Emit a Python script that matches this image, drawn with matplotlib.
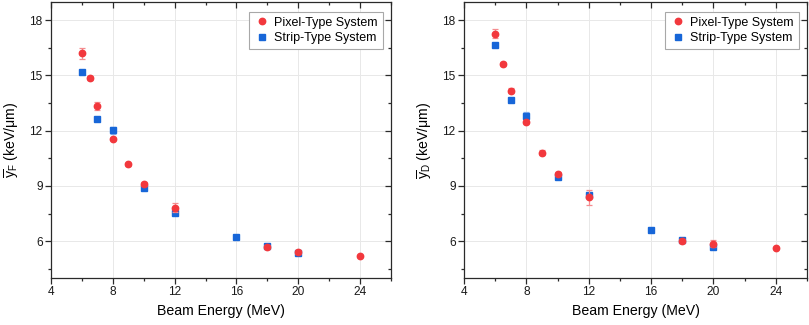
import matplotlib
matplotlib.use('Agg')
import matplotlib.pyplot as plt
from matplotlib.ticker import MultipleLocator

plt.rcParams['font.family'] = ['Liberation Sans', 'DejaVu Sans']
plt.rcParams['mathtext.fontset'] = 'custom'
plt.rcParams['mathtext.rm'] = 'Liberation Sans'
plt.rcParams['mathtext.it'] = 'Liberation Sans:italic'

# beam energies (MeV)
pixel_energy = [6, 6.5, 7, 8, 9, 10, 12, 18, 20, 24]
strip_energy = [6, 7, 8, 10, 12, 16, 18, 20]

# frequency-mean lineal energy yF (keV/um)
pixel_yf = [16.2, 14.85, 13.33, 11.57, 10.17, 9.11, 7.81, 5.68, 5.40, 5.21]
pixel_yf_err = [0.3, 0.1, 0.2, 0.1, 0.1, 0.1, 0.25, 0.1, 0.1, 0.05]
strip_yf = [15.18, 12.62, 12.02, 8.86, 7.51, 6.24, 5.76, 5.34]
strip_yf_err = [0.08, 0.08, 0.2, 0.08, 0.08, 0.06, 0.06, 0.06]

# dose-mean lineal energy yD (keV/um)
pixel_yd = [17.27, 15.62, 14.17, 12.47, 10.81, 9.64, 8.38, 6.02, 5.86, 5.64]
pixel_yd_err = [0.25, 0.1, 0.15, 0.1, 0.15, 0.1, 0.4, 0.1, 0.2, 0.05]
strip_yd = [16.67, 13.66, 12.81, 9.50, 8.49, 6.60, 6.08, 5.66]
strip_yd_err = [0.08, 0.08, 0.2, 0.08, 0.1, 0.06, 0.06, 0.06]

red = '#F2383D'
blue = '#1766D8'
axcol = '#2A2A2A'

fig = plt.figure(figsize=(8.09, 3.25), dpi=100)
rect1 = [51 / 809, 47 / 325, 340 / 809, 276.3 / 325]
rect2 = [464 / 809, 47 / 325, 343 / 809, 276.3 / 325]


def set_locators(ax):
    ax.xaxis.set_major_locator(MultipleLocator(4))
    ax.xaxis.set_minor_locator(MultipleLocator(2))
    ax.yaxis.set_major_locator(MultipleLocator(3))
    ax.yaxis.set_minor_locator(MultipleLocator(1.5))


def draw_panel(rect, p_y, p_err, s_y, s_err, ylabel):
    ax = fig.add_axes(rect)
    ax.errorbar(strip_energy, s_y, yerr=s_err, fmt='s', color=blue, ms=4.0,
                mec=blue, ecolor='#8DB3EC', elinewidth=0.9, capsize=2.2,
                capthick=0.9, zorder=3)
    ax.errorbar(pixel_energy, p_y, yerr=p_err, fmt='o', color=red, ms=4.6,
                mec=red, ecolor='#F58C8F', elinewidth=0.9, capsize=2.2,
                capthick=0.9, zorder=4)
    ax.set_xlim(4, 26)
    ax.set_ylim(4, 19)
    set_locators(ax)
    ax.grid(True, which='major', color='#E8E8E8', lw=0.7, zorder=0)
    ax.set_axisbelow(True)
    ax.tick_params(which='major', direction='out', length=4, width=0.9,
                   labelsize=8.6, pad=2, color=axcol, labelcolor='#1A1A1A')
    ax.tick_params(which='minor', direction='out', length=2.5, width=0.9,
                   color=axcol)
    for sp in ax.spines.values():
        sp.set_linewidth(0.9)
        sp.set_color(axcol)
    ax.set_xlabel('Beam Energy (MeV)', fontsize=10.2, labelpad=4)
    ax.set_ylabel(ylabel, fontsize=10.2, labelpad=5)

    # overlay axes carrying the inward ticks on top and right
    ov = fig.add_axes(rect, sharex=ax, sharey=ax)
    ov.patch.set_visible(False)
    for sp in ov.spines.values():
        sp.set_visible(False)
    ov.tick_params(which='both', direction='in', top=True, right=True,
                   bottom=False, left=False, labelbottom=False,
                   labelleft=False, width=0.9, color=axcol)
    ov.tick_params(which='major', length=4)
    ov.tick_params(which='minor', length=2.5)

    h_pix = ax.plot([], [], 'o', color=red, ms=4.6)[0]
    h_str = ax.plot([], [], 's', color=blue, ms=4.0)[0]
    leg = ov.legend([h_pix, h_str], ['Pixel-Type System', 'Strip-Type System'],
                    loc='upper right', fontsize=9, frameon=True, fancybox=False,
                    edgecolor='#A8A8A8', framealpha=1, handletextpad=0.4,
                    handlelength=1.2, borderpad=0.4, labelspacing=0.25,
                    bbox_to_anchor=(0.994, 0.986))
    leg.get_frame().set_linewidth(0.8)


draw_panel(rect1, pixel_yf, pixel_yf_err, strip_yf, strip_yf_err,
           r'$\overline{\mathrm{y}}_\mathrm{F}$ (keV/μm)')
draw_panel(rect2, pixel_yd, pixel_yd_err, strip_yd, strip_yd_err,
           r'$\overline{\mathrm{y}}_\mathrm{D}$ (keV/μm)')

fig.savefig('out.png', dpi=100)
